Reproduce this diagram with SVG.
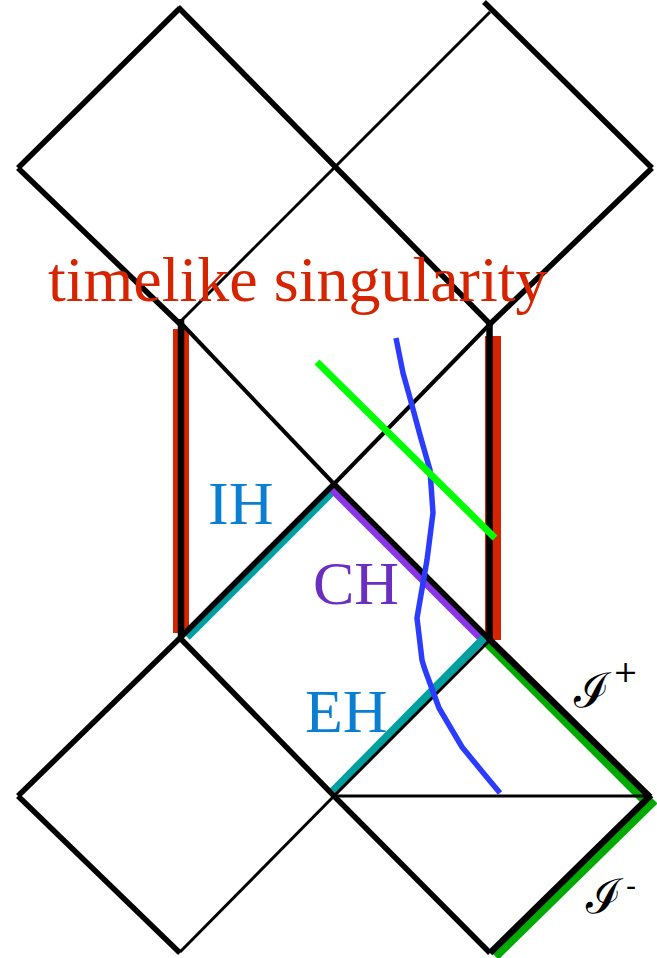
<svg xmlns="http://www.w3.org/2000/svg" width="657" height="958" viewBox="0 0 657 958">
<style>
.k{stroke:#000;fill:none;stroke-linecap:butt;stroke-linejoin:miter}
.t5{stroke-width:5.5}
.t4{stroke-width:4}
.t3{stroke-width:3}
.lbl{font-family:"Liberation Serif","Times New Roman",serif;font-size:62px}
.scr{font-family:"DejaVu Serif","Noto Sans",serif;fill:#000}
</style>
<rect width="657" height="958" fill="#fff"/>
<g id="connectors">
  <rect x="173" y="329" width="16" height="304" fill="#d62300"/>
  <rect x="485" y="336" width="16" height="304" fill="#d62300"/>
  <line x1="187" y1="637" x2="335" y2="489" stroke="#00a0a0" stroke-width="8"/>
  <line x1="331" y1="488" x2="487" y2="644" stroke="#8a35e8" stroke-width="8"/>
  <line x1="333" y1="791" x2="485" y2="637" stroke="#00a0a0" stroke-width="8"/>
  <line x1="488" y1="643" x2="647" y2="802" stroke="#00aa00" stroke-width="10"/>
  <line x1="654" y1="800" x2="495" y2="956" stroke="#00aa00" stroke-width="10"/>
  <line class="k t5" x1="180" y1="8" x2="18" y2="168"/>
  <line class="k t5" x1="18" y1="168" x2="180" y2="324"/>
  <line class="k t5" x1="178" y1="7" x2="490" y2="324"/>
  <line class="k t3" x1="334" y1="168" x2="180" y2="322"/>
  <line class="k t3" x1="334" y1="168" x2="490" y2="12"/>
  <line class="k t5" x1="484" y1="2" x2="652" y2="168"/>
  <line class="k t5" x1="652" y1="168" x2="490" y2="324"/>
  <line class="k t4" x1="180" y1="322" x2="336" y2="486"/>
  <line class="k t4" x1="490" y1="324" x2="332" y2="486"/>
  <line class="k t5" x1="334" y1="484" x2="490" y2="640"/>
  <line class="k t5" x1="334" y1="484" x2="180" y2="638"/>
  <line class="k" stroke-width="6.5" x1="181" y1="319" x2="181" y2="638"/>
  <line class="k" stroke-width="6.5" x1="489.5" y1="322" x2="489.5" y2="641"/>
  <line class="k t5" x1="180" y1="638" x2="18" y2="796"/>
  <line class="k t5" x1="18" y1="796" x2="180" y2="953"/>
  <line class="k t5" x1="180" y1="638" x2="335" y2="797"/>
  <line class="k t3" x1="334" y1="796" x2="180" y2="952"/>
  <line class="k t3" x1="490" y1="640" x2="334" y2="796"/>
  <line class="k t5" x1="333" y1="795" x2="490" y2="953"/>
  <line class="k" stroke-width="6.5" x1="490" y1="640" x2="650" y2="797"/>
  <line class="k" stroke-width="6.5" x1="651" y1="795" x2="490" y2="953"/>
  <line class="k t3" x1="334" y1="796" x2="648" y2="796"/>
  <polyline fill="none" stroke="#2b3cff" stroke-width="5.5" stroke-linejoin="round" points="396,338 403,373 410,398 420,435 430,470 433,513 427,560 417,618 422,660 424,667 439,708 462,747 485,775 500,793"/>
  <line x1="317" y1="362" x2="495" y2="538" stroke="#00ff00" stroke-width="7"/>
</g>
<g id="label-singularity"><text x="48" y="301" font-family="Liberation Serif, Times New Roman, serif" font-size="64" fill="#d62300">timelike singularity</text></g>
<g id="label-IH"><text class="lbl" x="208" y="524" fill="#0a7fd2">IH</text></g>
<g id="label-CH"><text class="lbl" x="313" y="604" fill="#6a2fc0">CH</text></g>
<g id="label-EH"><text class="lbl" x="305" y="732" fill="#0a7fd2">EH</text></g>
<g id="label-Iplus"><text class="scr" x="574" y="707" font-size="48" font-style="italic">ℐ</text><text class="scr" x="613" y="682" font-size="30">+</text></g>
<g id="label-Iminus"><text class="scr" x="586" y="913" font-size="48" font-style="italic">ℐ</text><text class="scr" x="626" y="896" font-size="30">-</text></g>
</svg>
